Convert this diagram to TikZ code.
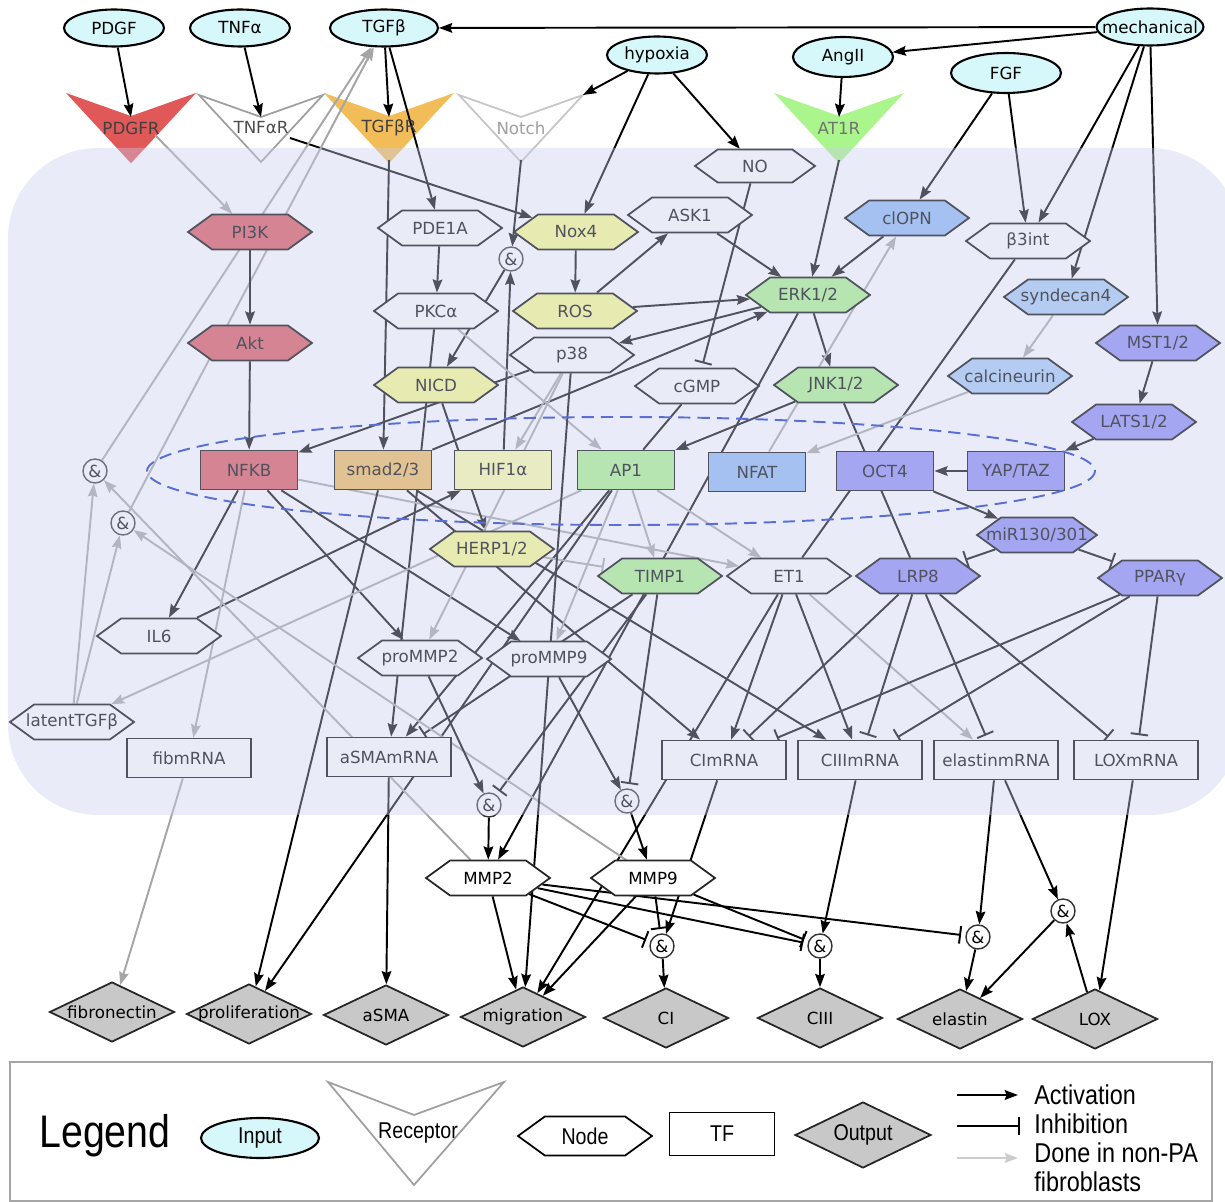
\documentclass[tikz,border=0pt]{standalone}
\usepackage{fontspec}
\setmainfont{DejaVu Sans}
\newfontfamily\legfont[FakeStretch=0.86]{Liberation Sans}
\usetikzlibrary{shapes.geometric,shapes.symbols,arrows.meta}
\pgfdeclarelayer{rec}\pgfdeclarelayer{edges}\pgfdeclarelayer{over}
\pgfsetlayers{rec,edges,main,over}
\definecolor{cellc}{RGB}{200,207,237}
\definecolor{infill}{RGB}{214,248,250}
\definecolor{recred}{RGB}{225,88,88}
\definecolor{rednode}{RGB}{222,82,88}
\definecolor{orn}{RGB}{242,188,88}
\definecolor{yel}{RGB}{252,255,140}
\definecolor{yelh}{RGB}{255,255,168}
\definecolor{grn}{RGB}{170,245,140}
\definecolor{blu}{RGB}{140,185,245}
\definecolor{lblu}{RGB}{168,202,245}
\definecolor{pur}{RGB}{140,140,245}
\definecolor{gedge}{RGB}{165,165,165}
\definecolor{outg}{RGB}{200,200,200}
\definecolor{dashb}{RGB}{90,110,215}
\newcommand\nd[4]{\node[#1] (#2) at (#3) {};\node[lbl] (#2-t) at (#2.center) {#4};}
\newcommand\rcp[6]{%
  \begin{pgfonlayer}{rec}
  \filldraw[fill=#3, draw=#4, line width=1pt] (#2-62,95) -- (#2,117) -- (#2+62,95) -- (#2,162) -- cycle;
  \end{pgfonlayer}
  \coordinate (#1n) at (#2,117); \coordinate (#1t) at (#2,160);
  \node[lbl, text=#5] (#1) at (#2,128) {#6};}
\tikzset{
  lbl/.style={inner sep=0pt, font=\fontsize{9.5}{11}\selectfont},
  inp/.style={ellipse, draw=black, line width=1.2pt, fill=infill, minimum width=2.0cm, minimum height=0.74cm, inner sep=0pt},
  hexs/.style={shape=signal, signal to=east and west, signal pointer angle=72, draw=black, line width=1pt, minimum width=2.48cm, minimum height=0.7cm, inner sep=0pt, fill=white},
  tf/.style={rectangle, draw=black, line width=1pt, minimum width=1.94cm, minimum height=0.78cm, inner sep=0pt},
  mrna/.style={rectangle, draw=black, line width=1pt, minimum width=2.48cm, minimum height=0.78cm, inner sep=0pt, fill=white},
  outp/.style={diamond, draw=black!85, line width=1pt, fill=outg, minimum width=2.5cm, minimum height=1.2cm, inner sep=0pt},
  andn/.style={circle, draw=black!80, line width=0.8pt, fill=white, minimum size=0.48cm, inner sep=0pt},
  e/.style={line width=1.1pt, draw=black},
  act/.style={e, -{Stealth[length=7.5pt,width=5.5pt,inset=1pt]}},
  inh/.style={e, -{Bar[width=10pt,line width=1.1pt]}, shorten >=2.5pt},
  gact/.style={act, draw=gedge},
  ginh/.style={inh, draw=gedge},
  pl/.style={e},
}
\begin{document}
\begin{tikzpicture}[x=0.02cm,y=-0.02cm]
\useasboundingbox (0,0) rectangle (1225,1202);
% receptors
\rcp{PDGFR}{131}{recred}{recred}{black!75}{PDGFR}
\rcp{TNFR}{261}{none}{gray!75}{black!70}{TNFαR}
\rcp{TGFR}{389}{orn}{orn}{black!75}{TGFβR}
\rcp{NotchR}{521}{none}{gray!45}{gray!75}{Notch}
\rcp{AT1R}{839}{grn}{grn}{black!55}{AT1R}
\coordinate (NotchTR) at (583,95);
\coordinate (PDGFRr) at (155,135);
\coordinate (TNFRr) at (290,138);
% inputs
\nd{inp}{PDGF}{114,28}{PDGF}
\nd{inp}{TNFa}{240,28}{TNFα}
\nd{inp,minimum width=2.16cm}{TGFb}{384,28}{TGFβ}
\nd{inp}{hyp}{657,55}{hypoxia}
\nd{inp,minimum height=0.8cm}{AngII}{843,57}{AngII}
\nd{inp,minimum width=2.2cm,minimum height=0.8cm}{FGF}{1006,73}{FGF}
\nd{inp,minimum width=2.14cm}{mech}{1150,27}{mechanical}
% hexagon nodes
\nd{hexs,fill=rednode}{PI3K}{250,232}{PI3K}
\nd{hexs,fill=rednode}{Akt}{250,343}{Akt}
\nd{hexs}{PDE1A}{440,228}{PDE1A}
\nd{hexs,fill=yel}{Nox4}{576,232}{Nox4}
\nd{hexs,minimum width=2.4cm,minimum height=0.66cm}{NO}{755,166}{NO}
\nd{hexs}{ASK1}{690,215}{ASK1}
\nd{hexs,fill=blu}{clOPN}{907,218}{clOPN}
\nd{hexs}{b3int}{1028,241}{β3int}
\nd{hexs}{PKC}{436,311}{PKCα}
\nd{hexs,fill=yel}{ROS}{575,311}{ROS}
\nd{hexs,fill=grn}{ERK}{808,295}{ERK1/2}
\nd{hexs,fill=lblu}{synd}{1066,297}{syndecan4}
\nd{hexs,fill=pur}{MST}{1158,343}{MST1/2}
\nd{hexs}{p38}{572,355}{p38}
\nd{hexs,fill=yel}{NICD}{436,385}{NICD}
\nd{hexs}{cGMP}{697,386}{cGMP}
\nd{hexs,fill=grn}{JNK}{836,385}{JNK1/2}
\nd{hexs,fill=lblu}{calc}{1010,376}{calcineurin}
\nd{hexs,fill=pur}{LATS}{1134,422}{LATS1/2}
\nd{hexs,fill=pur,minimum width=2.4cm}{miR}{1037,535}{miR130/301}
\nd{hexs,fill=yel}{HERP}{492,549}{HERP1/2}
\nd{hexs,fill=grn}{TIMP1}{660,576}{TIMP1}
\nd{hexs}{ET1}{789,576}{ET1}
\nd{hexs,fill=pur}{LRP8}{918,576}{LRP8}
\nd{hexs,fill=pur}{PPARg}{1160,578}{PPARγ}
\nd{hexs}{IL6}{159,636}{IL6}
\nd{hexs}{proMMP2}{420,658}{proMMP2}
\nd{hexs}{proMMP9}{549,659}{proMMP9}
\nd{hexs}{latTGF}{72,722}{latentTGFβ}
\nd{hexs,draw=black!85}{MMP2}{488,878}{MMP2}
\nd{hexs,draw=black!85}{MMP9}{653,878}{MMP9}
% TFs
\nd{tf,fill=rednode}{NFKB}{249,470}{NFKB}
\nd{tf,fill=orn}{smad}{383,470}{smad2/3}
\nd{tf,fill=yelh}{HIF}{503,470}{HIF1α}
\nd{tf,fill=grn}{AP1}{626,470}{AP1}
\nd{tf,fill=blu}{NFAT}{757,472}{NFAT}
\nd{tf,fill=pur}{OCT4}{885,471}{OCT4}
\nd{tf,fill=pur}{YAP}{1016,471}{YAP/TAZ}
% mRNA
\nd{mrna}{fibm}{189,758}{fibmRNA}
\nd{mrna}{aSMAm}{389,757}{aSMAmRNA}
\nd{mrna}{CIm}{724,760}{CImRNA}
\nd{mrna}{CIIIm}{860,760}{CIIImRNA}
\nd{mrna}{elm}{996,760}{elastinmRNA}
\nd{mrna}{LOXm}{1136,760}{LOXmRNA}
% outputs
\nd{outp}{fibronectin}{112,1012}{fibronectin}
\nd{outp}{prolif}{249,1014}{proliferation}
\nd{outp}{aSMA}{386,1015}{aSMA}
\nd{outp}{migration}{523,1017}{migration}
\nd{outp}{CI}{666,1018}{CI}
\nd{outp}{CIII}{820,1018}{CIII}
\nd{outp}{elastin}{960,1019}{elastin}
\nd{outp}{LOX}{1095,1019}{LOX}
% and gates
\nd{andn}{andN}{511,259}{\&}
\nd{andn}{and1}{95,471}{\&}
\nd{andn}{and2}{123,523}{\&}
\nd{andn}{andA}{489,805}{\&}
\nd{andn}{andB}{627,801}{\&}
\nd{andn}{andCI}{662,946}{\&}
\nd{andn}{andCIII}{820,946}{\&}
\nd{andn}{andEl}{978,937}{\&}
\nd{andn}{andLox}{1063,911}{\&}
% ---------------- edges ----------------
\begin{pgfonlayer}{edges}
\draw[act] (PDGF) -- (PDGFRn);
\draw[act] (TNFa) -- (TNFRn);
\draw[act] (TGFb) -- (TGFRn);
\draw[act] (TGFb) -- (PDE1A);
\draw[act] (mech) -- (TGFb);
\draw[act] (mech) -- (AngII);
\draw[act] (mech) -- (b3int);
\draw[act] (mech) -- (synd);
\draw[act] (mech) -- (MST);
\draw[act] (hyp) -- (NotchTR);
\draw[act] (hyp) -- (Nox4);
\draw[act] (hyp) -- (NO);
\draw[act] (AngII) -- (AT1Rn);
\draw[act] (AT1Rt) -- (ERK);
\draw[act] (FGF) -- (clOPN);
\draw[act] (FGF) -- (b3int);
\draw[act] (TNFRr) -- (Nox4);
\draw[act] (NotchRt) -- (andN);
\draw[gact] (PDGFRr) -- (PI3K);
\draw[gact] (and1) -- (TGFb);
\draw[gact] (and2) -- (TGFb);
\draw[act] (TGFRt) -- (smad);
\draw[act] (PI3K) -- (Akt);
\draw[act] (Akt) -- (NFKB);
\draw[act] (PDE1A) -- (PKC);
\draw[act] (PKC) -- (aSMAm);
\draw[act] (andN) -- (NICD);
\draw[act] (HIF) -- (andN);
\draw[act] (Nox4) -- (ROS);
\draw[act] (ROS) -- (ASK1);
\draw[act] (ROS) -- (ERK);
\draw[act] (ASK1) -- (ERK);
\draw[act] (ERK) -- (p38);
\draw[act] (smad) -- (ERK);
\draw[act] (p38) -- (NFKB);
\draw[act] (ERK) -- (JNK);
\draw[act] (clOPN) -- (ERK);
\draw[gact] (NFAT) -- (clOPN);
\draw[inh] (NO) -- (cGMP);
\draw[pl] (cGMP) -- (AP1);
\draw[act] (JNK) -- (AP1);
\draw[pl] (JNK) -- (LRP8);
\draw[pl] (b3int) -- (ET1);
\draw[gact] (synd) -- (calc);
\draw[gact] (calc) -- (NFAT);
\draw[act] (MST) -- (LATS);
\draw[act] (LATS) -- (YAP);
\draw[act] (YAP) -- (OCT4);
\draw[act] (OCT4) -- (miR);
\draw[inh] (miR) -- (LRP8);
\draw[inh] (miR) -- (PPARg);
\draw[act] (ERK) -- (MMP2);
\draw[gact] (AP1) -- (TIMP1);
\draw[gact] (AP1) -- (ET1);
\draw[gact] (NFKB) -- (ET1);
\draw[gact] (ET1) -- (elm);
\draw[act] (ET1) -- (CIm);
\draw[act] (ET1) -- (CIIIm);
\draw[act] (ET1) -- (migration);
\draw[inh] (LRP8) -- (CIm);
\draw[inh] (LRP8) -- (CIIIm);
\draw[inh] (LRP8) -- (elm);
\draw[inh] (LRP8) -- (LOXm);
\draw[inh] (PPARg) -- (CIm);
\draw[inh] (PPARg) -- (CIIIm);
\draw[inh] (PPARg) -- (LOXm);
\draw[inh] (TIMP1) -- (andA);
\draw[inh] (TIMP1) -- (andB);
\draw[inh] (TIMP1) -- (aSMAm);
\draw[act] (AP1) -- (aSMAm);
\draw[act] (AP1) -- (prolif);
\draw[act] (smad) -- (prolif);
\draw[act] (smad) -- (CIm);
\draw[act] (smad) -- (CIIIm);
\draw[act] (NFKB) -- (IL6);
\draw[act] (IL6) -- (HIF);
\draw[gact] (NFKB) -- (fibm);
\draw[gact] (fibm) -- (fibronectin);
\draw[act] (NFKB) -- (proMMP2);
\draw[act] (NFKB) -- (proMMP9);
\draw[act] (NICD) -- (HERP);
\draw[ginh] (HERP) -- (TIMP1);
\draw[gact] (AP1) -- (latTGF);
\draw[gact] (latTGF) -- (and1);
\draw[gact] (latTGF) -- (and2);
\draw[gact] (MMP2) -- (and1);
\draw[gact] (MMP9) -- (and2);
\draw[gact] (p38) -- (HIF);
\draw[gact] (PKC) -- (AP1);
\draw[gact] (p38) -- (proMMP2);
\draw[gact] (AP1) -- (proMMP9);
\draw[act] (proMMP2) -- (andA);
\draw[act] (proMMP9) -- (andB);
\draw[act] (andA) -- (MMP2);
\draw[act] (andB) -- (MMP9);
\draw[act] (aSMAm) -- (aSMA);
\draw[act] (p38) -- (migration);
\draw[act] (MMP2) -- (migration);
\draw[act] (MMP9) -- (migration);
\draw[inh] (MMP2) -- (andCI);
\draw[inh] (MMP2) -- (andCIII);
\draw[inh] (MMP2) -- (andEl);
\draw[inh] (MMP9) -- (andCI);
\draw[inh] (MMP9) -- (andCIII);
\draw[act] (CIm) -- (andCI);
\draw[act] (CIIIm) -- (andCIII);
\draw[act] (elm) -- (andEl);
\draw[act] (elm) -- (andLox);
\draw[act] (LOXm) -- (LOX);
\draw[act] (LOX) -- (andLox);
\draw[act] (andLox) -- (elastin);
\draw[act] (andCI) -- (CI);
\draw[act] (andCIII) -- (CIII);
\draw[act] (andEl) -- (elastin);
\end{pgfonlayer}
% ---------------- cell overlay, TF ellipse, legend ----------------
\begin{pgfonlayer}{over}
\fill[cellc, fill opacity=0.4, rounded corners=1.8cm] (8,148) rectangle (1240,815);
\draw[dashb, dashed, line width=1.1pt, dash pattern=on 7pt off 4pt] (621,471) ellipse [x radius=474, y radius=54];
\draw[gray!70, line width=1.2pt] (10,1062) rectangle (1212,1201);
\node[font=\legfont\fontsize{26}{28}\selectfont] (legT) at (105,1136) {Legend};
\node[inp, minimum width=2.36cm, minimum height=0.8cm] (legIn) at (260,1138) {};
\node[font=\legfont\fontsize{13}{15}\selectfont] (legIn-t) at (legIn) {Input};
\draw[gray!75, line width=1pt] (328,1082) -- (414,1115) -- (504,1082) -- (414,1185) -- cycle;
\node[font=\legfont\fontsize{13}{15}\selectfont] (legRec) at (418,1133) {Receptor};
\node[hexs, minimum width=2.68cm, minimum height=0.78cm] (legNode) at (585,1136) {};
\node[font=\legfont\fontsize{13}{15}\selectfont] (legNode-t) at (legNode) {Node};
\node[tf, fill=white, minimum width=2.1cm, minimum height=0.86cm] (legTF) at (722,1134) {};
\node[font=\legfont\fontsize{13}{15}\selectfont] (legTF-t) at (legTF) {TF};
\node[outp, minimum width=2.72cm, minimum height=1.32cm] (legOut) at (863,1135) {};
\node[font=\legfont\fontsize{13}{15}\selectfont] (legOut-t) at (legOut) {Output};
\coordinate (la1) at (957,1095); \coordinate (la2) at (1018,1095);
\coordinate (li1) at (957,1126); \coordinate (li2) at (1020,1126);
\coordinate (lg1) at (957,1158); \coordinate (lg2) at (1018,1158);
\draw[act] (la1) -- (la2);
\draw[e, -{Bar[width=10pt,line width=1.1pt]}] (li1) -- (li2);
\draw[gact, draw=gray!40] (lg1) -- (lg2);
\begin{scope}[every node/.style={anchor=west, inner sep=0pt, font=\legfont\fontsize{15.5}{17}\selectfont}]
\node (lAct) at (1034,1095) {Activation};
\node (lInh) at (1034,1124) {Inhibition};
\node (lDone) at (1034,1153) {Done in non-PA};
\node (lFib) at (1034,1182) {fibroblasts};
\end{scope}
\end{pgfonlayer}
\end{tikzpicture}
\end{document}
